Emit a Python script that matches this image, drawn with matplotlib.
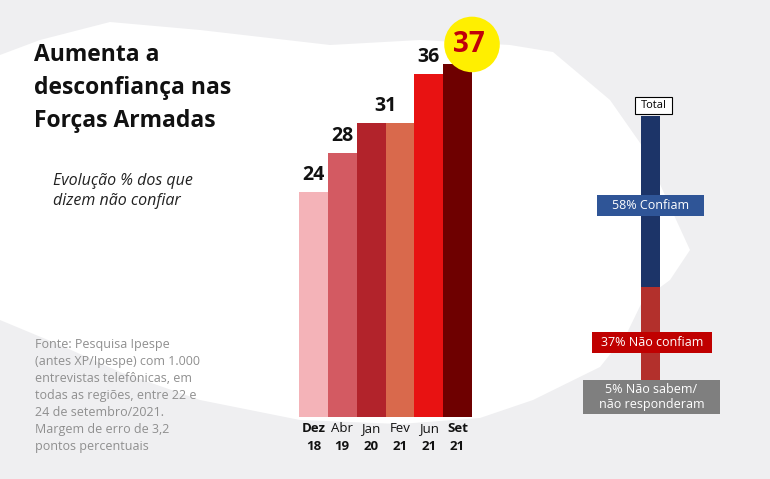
import matplotlib.pyplot as plt
from matplotlib.patches import Polygon, Rectangle

# data
months = ['Dez', 'Abr', 'Jan', 'Fev', 'Jun', 'Set']
years = ['18', '19', '20', '21', '21', '21']
distrust = [24, 28, 31, 31, 36, 37]
bar_colors = ['#f4b3b8', '#d35a62', '#b2232b', '#d9694c', '#e81212', '#6e0000']

total_labels = ['58% Confiam', '37% Não confiam', '5% Não sabem/\nnão responderam']
total_values = [58, 37, 5]

W, H = 770, 479
fig = plt.figure(figsize=(W / 100, H / 100), dpi=100)
fig.patch.set_facecolor('#efeff1')


def fx(x):
    return x / W


def fy(y):
    return 1 - y / H


# background layer with the white map-like blob
bg = fig.add_axes([0, 0, 1, 1], zorder=-10)
bg.set_xlim(0, W)
bg.set_ylim(H, 0)
bg.axis('off')
blob = [(0, 55), (40, 40), (110, 22), (200, 30), (330, 45), (420, 40), (510, 45),
        (553, 52), (610, 100), (645, 150), (667, 200), (690, 250), (670, 280),
        (643, 300), (627, 333), (600, 367), (533, 400), (480, 418), (400, 424),
        (300, 420), (200, 400), (120, 372), (60, 345), (0, 320)]
bg.add_patch(Polygon(blob, closed=True, facecolor='white', edgecolor='none'))

# main bar chart
ymin, ymax = 1.1, 40
bottom_px, unit_px = 417, 9.83
top_px = bottom_px - (ymax - ymin) * unit_px
ax = fig.add_axes([fx(299), fy(bottom_px), fx(472 - 299), (bottom_px - top_px) / H])
ax.set_facecolor('none')
x = range(len(months))
ax.bar(x, distrust, width=1.0, color=bar_colors, edgecolor='none')
ax.set_xlim(-0.5, len(months) - 0.5)
ax.set_ylim(ymin, ymax)
for s in ax.spines.values():
    s.set_visible(False)
ax.set_yticks([])
ax.set_xticks([])

xt = ax.get_xaxis_transform()
for i, (m, yr) in enumerate(zip(months, years)):
    bold = i in (0, len(months) - 1)
    ax.text(i, -0.012, m, transform=xt, ha='center', va='top', fontsize=9.5,
            family='Open Sans', fontweight='bold' if bold else 'normal', color='#111111')
    ax.text(i, -0.06, yr, transform=xt, ha='center', va='top', fontsize=9.5,
            family='Open Sans', fontweight='bold', color='#111111')

# one label per run of equal values, centred over the run
last = len(distrust) - 1
i = 0
while i < last:
    j = i
    while j + 1 < last and distrust[j + 1] == distrust[i]:
        j += 1
    ax.text((i + j) / 2, distrust[i] + 0.7, str(distrust[i]), ha='center', va='bottom',
            fontsize=14, fontweight='bold', family='Open Sans', color='#111111')
    i = j + 1

ax.scatter([last + 0.5], [distrust[last] + 2.0], s=1600, color='#ffef00', clip_on=False,
           zorder=4, edgecolors='none')
ax.text(last + 0.38, distrust[last] + 2.0, str(distrust[last]), ha='center', va='center',
        fontsize=20, fontweight='bold', family='Open Sans', color='#c0000a', zorder=5)

# titles and notes
fig.text(fx(34), fy(43), 'Aumenta a\ndesconfiança nas\nForças Armadas', ha='left', va='top',
         fontsize=16.5, fontweight='bold', family='Open Sans', linespacing=1.5, color='#111111')
fig.text(fx(53), fy(173), 'Evolução % dos que\ndizem não confiar', ha='left', va='top',
         fontsize=11.5, style='italic', family='Open Sans', linespacing=1.3, color='#222222')
fig.text(fx(35), fy(338), 'Fonte: Pesquisa Ipespe\n(antes XP/Ipespe) com 1.000\n'
         'entrevistas telefônicas, em\ntodas as regiões, entre 22 e\n'
         '24 de setembro/2021.\nMargem de erro de 3,2\npontos percentuais',
         ha='left', va='top', fontsize=9, family='Open Sans', linespacing=1.4, color='#8f8f8f')

# total stacked bar
tx = fig.add_axes([fx(641), fy(411), fx(19), (411 - 116) / H])
tx.set_facecolor('none')
stack_colors = ['#1c3468', '#b3302c', '#b3302c']
base = 100
for v, c in zip(total_values, stack_colors):
    tx.bar(0, v, bottom=base - v, width=1.0, color=c, edgecolor='none')
    base -= v
tx.set_xlim(-0.5, 0.5)
tx.set_ylim(0, 100)
tx.axis('off')

# label boxes (pixel extents)
bg.add_patch(Rectangle((635, 97), 37, 17, facecolor='white', edgecolor='black',
                       linewidth=0.8, zorder=5))
fig.text(fx(653.5), fy(105.5), 'Total', ha='center', va='center', fontsize=8,
         family='Open Sans', zorder=6)
box_specs = [(597, 195, 107, 21, '#2f5597'), (592, 332, 120, 21, '#c00000'),
             (583, 380, 137, 34, '#7f7f7f')]
for lab, (bx, by, bw, bh, bc) in zip(total_labels, box_specs):
    fr = fig.add_axes([fx(bx), fy(by + bh), fx(bw), bh / H], zorder=5)
    fr.set_facecolor(bc)
    fr.set_xticks([])
    fr.set_yticks([])
    for s in fr.spines.values():
        s.set_visible(False)
    fr.text(0.5, 0.5, lab, transform=fr.transAxes, ha='center', va='center', fontsize=9,
            family='Open Sans', color='white', linespacing=1.25)

fig.savefig('out.png', dpi=100, facecolor=fig.get_facecolor())
